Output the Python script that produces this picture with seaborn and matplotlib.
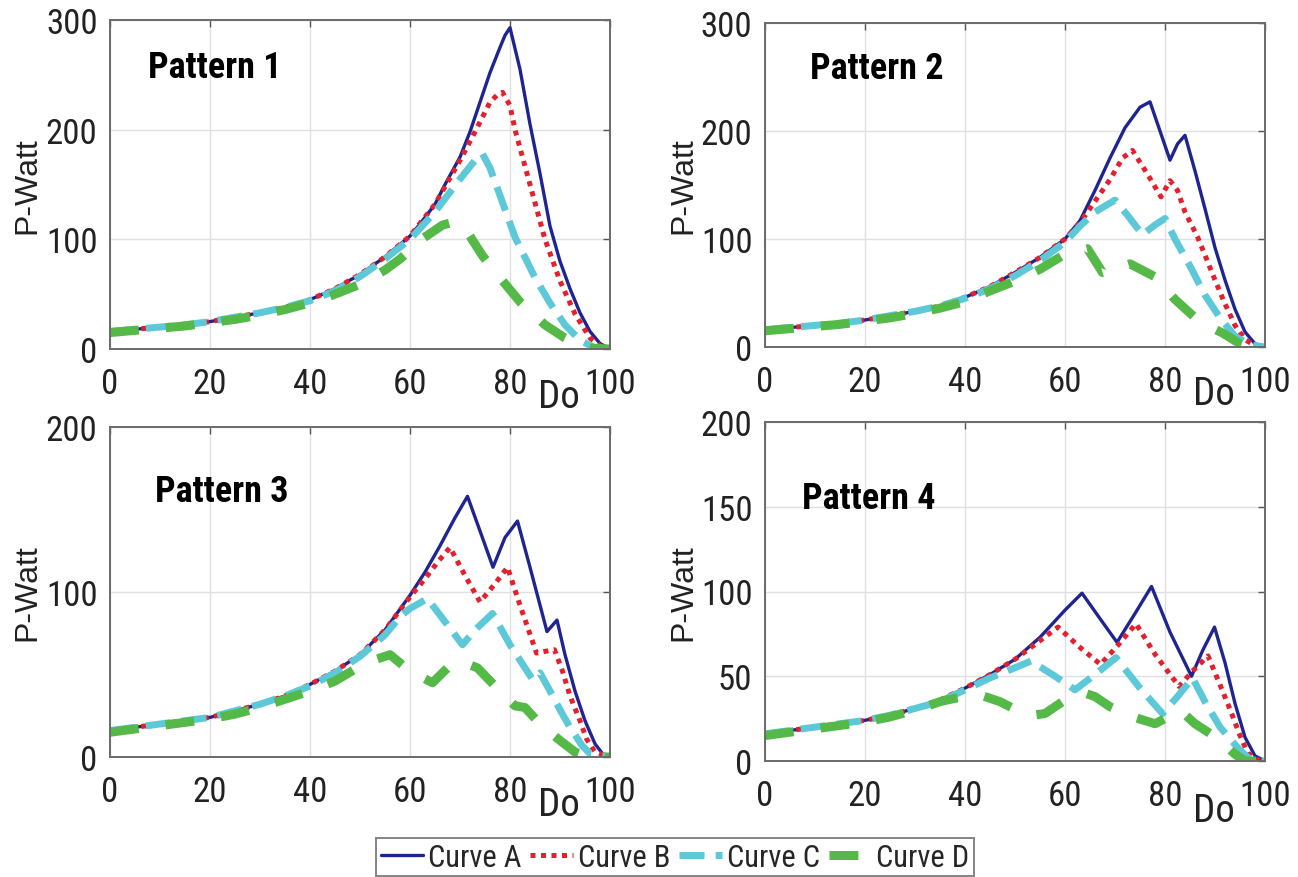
import matplotlib
matplotlib.use("Agg")
import matplotlib.pyplot as plt
from matplotlib import font_manager
import seaborn as sns
import pandas as pd

# ---------------- data ----------------
RISE_X = [0, 5, 10, 15, 20, 25, 30, 35, 40, 45, 50, 55]

# Pattern 1
p1_A_x = RISE_X + [60, 62, 65, 67, 70, 72, 74, 76, 78, 79, 80, 82, 84, 86, 88, 90, 92, 94, 96, 98, 100]
p1_A_y = [16, 18, 20, 22, 25, 29, 33, 38, 45, 55, 68, 84,
          103, 114, 132, 150, 175, 198, 225, 252, 275, 286, 293, 255, 205, 160, 112, 80, 55, 33, 16, 5, 0]
p1_B_x = RISE_X + [60, 65, 70, 73, 76, 77.5, 78.5, 80, 81, 84, 87, 90, 93, 96, 98, 100]
p1_B_y = [16, 18, 20, 22, 25, 29, 33, 38, 45, 55, 68, 84,
          103, 132, 172, 198, 225, 232, 234, 222, 200, 150, 100, 62, 32, 10, 3, 0]
p1_C_x = RISE_X + [60, 65, 70, 73, 74.5, 76, 78, 81, 85, 88, 91, 94, 97, 100]
p1_C_y = [16, 18, 20, 22, 25, 29, 33, 38, 44, 53, 66, 82,
          100, 125, 155, 172, 178, 165, 140, 102, 65, 42, 22, 8, 1, 0]
p1_D_x = [0, 5, 10, 15, 20, 25, 30, 35, 40, 45, 50, 55, 58, 62, 66.5, 69, 71, 74.5,
          78, 82, 87, 91, 95, 100]
p1_D_y = [15, 17, 19, 21, 24, 27, 31, 36, 42, 50, 59, 72, 82, 99, 113, 116, 110, 85,
          65, 43, 22, 10, 1, 0]

# Pattern 2
p2_A_x = RISE_X + [60, 63, 66, 69, 72, 75, 77, 79, 81, 82.5, 84, 86, 88, 90, 92, 94, 96, 98, 100]
p2_A_y = [16, 18, 20, 22, 25, 29, 33, 38, 46, 56, 69, 83,
          100, 117, 145, 175, 203, 222, 227, 200, 173, 188, 196, 163, 128, 92, 62, 35, 14, 3, 0]
p2_B_x = RISE_X + [60, 63, 66, 69, 71.5, 73.5, 76.5, 79.2, 81, 82.5, 84, 86.5, 88, 90, 92, 94, 96, 98, 100]
p2_B_y = [16, 18, 20, 22, 25, 29, 33, 38, 46, 56, 69, 83,
          100, 115, 135, 155, 175, 182, 160, 139, 154, 145, 125, 102, 85, 62, 40, 20, 7, 1, 0]
p2_C_x = RISE_X + [60, 63, 66, 70, 72.5, 75.5, 78, 80, 82, 85, 88, 91, 94, 97, 100]
p2_C_y = [16, 18, 20, 22, 25, 29, 33, 38, 45, 54, 66, 80,
          97, 112, 125, 136, 122, 104, 113, 119, 100, 75, 48, 27, 10, 2, 0]
p2_D_x = [0, 5, 10, 15, 20, 25, 30, 35, 40, 45, 50, 55, 60, 64.5, 67.5, 73, 78, 82,
          87, 91.5, 95, 97, 100]
p2_D_y = [15, 17, 19, 21, 24, 27, 31, 36, 42, 52, 61, 72, 86, 91, 69, 77, 65, 44,
          23, 13, 3, 1, 0]

# Pattern 3
p3_A_x = RISE_X + [60, 63, 66, 69, 71.5, 74, 76.6, 79, 81.5, 84, 87.4, 89.4, 91, 93, 95, 97, 98.5, 100]
p3_A_y = [16, 18, 20, 22, 24, 28, 32, 37, 44, 52, 62, 77,
          98, 112, 128, 145, 158, 137, 115, 133, 143, 115, 76, 83, 62, 40, 22, 8, 2, 0]
p3_B_x = RISE_X + [60, 63, 65.5, 68, 71, 74, 77, 79.5, 82, 85.3, 87, 88.9, 90.5, 92, 94, 95.3, 97, 100]
p3_B_y = [16, 18, 20, 22, 24, 28, 32, 37, 44, 52, 62, 77,
          97, 108, 118, 127, 110, 94, 105, 115, 92, 63, 64, 65, 52, 37, 22, 11, 3, 0]
p3_C_x = [0, 5, 10, 15, 20, 25, 30, 35, 40, 45, 50, 55, 58, 60, 63.5, 67, 70.5, 73,
          76.5, 80, 84.5, 86, 88, 90.3, 92, 94.4, 96, 100]
p3_C_y = [16, 18, 20, 22, 24, 28, 32, 37, 43, 51, 61, 74, 85, 90, 96, 82, 68, 77,
          87, 68, 47, 51, 40, 27, 18, 7, 2, 0]
p3_D_x = [0, 5, 10, 15, 20, 25, 30, 35, 40, 45, 50, 53, 56, 60, 64.5, 68.5, 71, 73.5,
          77, 81, 83, 86, 90, 93, 96, 100]
p3_D_y = [15, 17, 19, 21, 23, 26, 30, 35, 40, 46, 55, 59, 62, 52, 45, 57, 57, 54,
          43, 31, 30, 20, 10, 3, 0, 0]

# Pattern 4
p4_A_x = [0, 5, 10, 15, 20, 25, 30, 35, 40, 45, 50, 55, 60, 63.4, 67, 70.4, 74, 77.3,
          81, 85.3, 87.5, 89.9, 92, 94, 96, 98, 100]
p4_A_y = [16, 18, 20, 22, 24, 27, 31, 36, 43, 51, 60, 73, 89, 99, 84, 70, 87, 103,
          76, 50, 65, 79, 58, 34, 14, 3, 0]
p4_B_x = [0, 5, 10, 15, 20, 25, 30, 35, 40, 45, 50, 55, 58.6, 63, 67.1, 70.5, 74.2,
          78, 82.8, 85.5, 88.6, 91, 93.2, 95, 96.5, 98, 100]
p4_B_y = [16, 18, 20, 22, 24, 27, 31, 36, 43, 51, 60, 71, 79, 67, 57, 68, 81,
          63, 44, 53, 62, 45, 29, 15, 5, 1, 0]
p4_C_x = [0, 5, 10, 15, 20, 25, 30, 35, 40, 45, 50, 53.2, 58, 62, 66, 70.2, 75, 79.5,
          82.5, 85.5, 88, 91, 94.8, 97, 100]
p4_C_y = [16, 18, 20, 22, 24, 27, 31, 35, 42, 49, 55, 59, 50, 42, 51, 61, 43, 28,
          38, 49, 35, 20, 7, 1, 0]
p4_D_x = [0, 5, 10, 15, 20, 25, 30, 35, 38, 43, 47, 51, 53.5, 56, 60, 64, 66, 69,
          73.6, 78, 80, 83, 86, 90.7, 94, 96, 100]
p4_D_y = [15, 17, 19, 21, 23, 26, 30, 35, 37, 39, 35, 29, 27, 28, 36, 40, 38, 32,
          26, 22, 25, 30, 22, 13, 4, 0, 0]

pattern_titles = ["Pattern 1", "Pattern 2", "Pattern 3", "Pattern 4"]
curve_names = ["Curve A", "Curve B", "Curve C", "Curve D"]
y_limits = [300, 300, 200, 200]
y_ticks = [[0, 100, 200, 300], [0, 100, 200, 300], [0, 100, 200], [0, 50, 100, 150, 200]]
x_ticks = [0, 20, 40, 60, 80, 100]

patterns = [
    [(p1_A_x, p1_A_y), (p1_B_x, p1_B_y), (p1_C_x, p1_C_y), (p1_D_x, p1_D_y)],
    [(p2_A_x, p2_A_y), (p2_B_x, p2_B_y), (p2_C_x, p2_C_y), (p2_D_x, p2_D_y)],
    [(p3_A_x, p3_A_y), (p3_B_x, p3_B_y), (p3_C_x, p3_C_y), (p3_D_x, p3_D_y)],
    [(p4_A_x, p4_A_y), (p4_B_x, p4_B_y), (p4_C_x, p4_C_y), (p4_D_x, p4_D_y)],
]

# ---------------- fonts ----------------
sns.set_theme(style="white")
available = {f.name for f in font_manager.fontManager.ttflist}
narrow_name = None
for cand in ["Liberation Sans Narrow", "Arial Narrow", "Roboto Condensed",
             "DejaVu Sans Condensed", "Open Sans Condensed", "Noto Sans Condensed"]:
    if cand in available:
        narrow_name = cand
        break
if narrow_name is None:
    for n in sorted(available):
        if "Narrow" in n or "Condensed" in n:
            narrow_name = n
            break
if narrow_name is None:
    NARROW = ["Liberation Sans", "DejaVu Sans"]
    k = 0.85
else:
    NARROW = [narrow_name, "Liberation Sans", "DejaVu Sans"]
    k = 1.0
plt.rcParams["font.family"] = ["Liberation Sans", "DejaVu Sans"]

TICK_FS = 25 * k
TITLE_FS = 26 * k
LEG_FS = 22 * k
DO_FS = 28 * k

styles = [
    dict(color="#1f2590", lw=2.4, linestyle="-"),
    dict(color="#e3202c", lw=3.6, linestyle=(0, (1.0, 1.1))),
    dict(color="#5cc8d8", lw=5.0, linestyle=(0, (3.6, 1.6))),
    dict(color="#55b947", lw=6.5, linestyle=(0, (3.2, 3.0))),
]

W, H = 1298, 878
fig = plt.figure(figsize=(W / 100, H / 100), dpi=100)

# axes boxes in pixels: left, top, right, bottom
boxes = [(110, 21, 610, 350), (765, 24, 1265, 348), (110, 428, 610, 758), (765, 423, 1265, 762)]
title_pos = [(7.5, 257), (9, 258), (9, 161), (7.5, 155)]
ylabel_x = [42, 698, 42, 698]

axes = []
for i, (l, t, r, b) in enumerate(boxes):
    ax = fig.add_axes([l / W, 1 - b / H, (r - l) / W, (b - t) / H])
    axes.append(ax)
    for j, (xs, ys) in enumerate(patterns[i]):
        df = pd.DataFrame({"Do": xs, "P": ys})
        sns.lineplot(data=df, x="Do", y="P", ax=ax, label=curve_names[j],
                     errorbar=None, sort=True, **styles[j])
    ax.set_xlim(0, 100)
    ax.set_ylim(0, y_limits[i])
    ax.set_xticks(x_ticks)
    ax.set_yticks(y_ticks[i])
    ax.grid(True, color="#e0e0e0", lw=1.0)
    ax.set_axisbelow(True)
    for sp in ax.spines.values():
        sp.set_visible(True)
        sp.set_color("#6a6a6a")
        sp.set_linewidth(1.4)
    ax.tick_params(direction="in", length=5, width=1.0, color="#555555",
                   top=True, right=True, labelsize=TICK_FS, labelcolor="#222222")
    ax.tick_params(axis="x", pad=13)
    ax.tick_params(axis="y", pad=9)
    for lab in ax.get_xticklabels() + ax.get_yticklabels():
        lab.set_family(NARROW)
    ax.set_xlabel("")
    ax.set_ylabel("P-Watt", fontsize=23, color="#222222")
    ax.yaxis.set_label_coords((ylabel_x[i] - l) / (r - l), 0.5)
    ax.text(0.898, -0.145, "Do", transform=ax.transAxes, fontsize=DO_FS,
            family=NARROW, ha="center", va="center", color="#222222")
    ax.text(title_pos[i][0], title_pos[i][1], pattern_titles[i], fontsize=TITLE_FS,
            fontweight="bold", family=NARROW, ha="left", va="center", color="black")
    leg = ax.get_legend()
    if leg is not None:
        leg.remove()

handles, labels = axes[0].get_legend_handles_labels()
leg = fig.legend(handles, labels, loc="lower center", bbox_to_anchor=(0.52, -0.006),
                 ncol=4, frameon=True, fancybox=False, edgecolor="#666666",
                 handlelength=1.4, handletextpad=0.15, columnspacing=0.3,
                 borderpad=0.15, borderaxespad=0.2, prop={"family": NARROW, "size": LEG_FS})
leg.get_frame().set_linewidth(1.4)

fig.savefig("out.png", dpi=100, facecolor="white")
